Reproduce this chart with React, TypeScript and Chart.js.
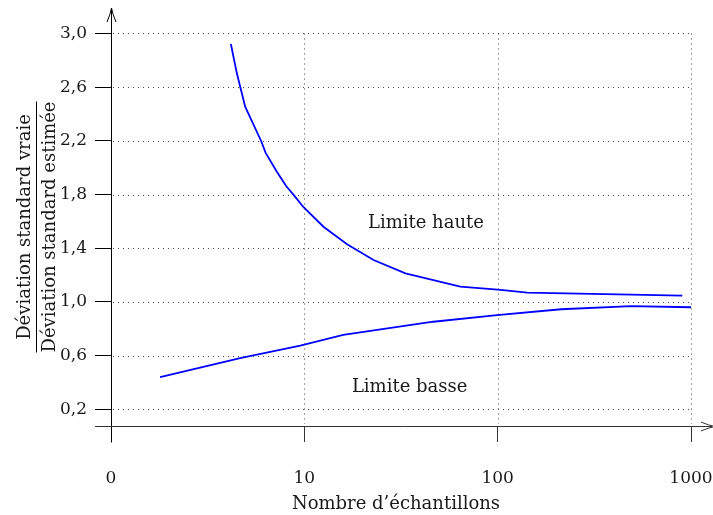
import React, { useEffect, useRef } from "react";
import { Chart, registerables } from "chart.js";

Chart.register(...registerables);

// x positions are in decades (0 -> label "0", 1 -> "10", 2 -> "100", 3 -> "1000")
const xTickValues = [0, 1, 2, 3];
const xTickLabels = ["0", "10", "100", "1000"];
const yTickValues = [0.2, 0.6, 1.0, 1.4, 1.8, 2.2, 2.6, 3.0];

const upperX = [0.62, 0.651, 0.694, 0.777, 0.8, 0.858, 0.905, 0.953, 0.996, 1.099, 1.221, 1.358, 1.523, 1.807, 2.015, 2.153, 2.955];
const upperY = [2.922, 2.703, 2.455, 2.197, 2.11, 1.97, 1.865, 1.782, 1.705, 1.56, 1.429, 1.312, 1.213, 1.113, 1.089, 1.069, 1.046];

const lowerX = [0.254, 0.668, 0.979, 1.201, 1.667, 1.997, 2.328, 2.69, 3.0];
const lowerY = [0.44, 0.58, 0.674, 0.754, 0.852, 0.902, 0.945, 0.969, 0.96];

const xTitle = "Nombre d\u2019échantillons";
const yTitleTop = "Déviation standard vraie";
const yTitleBottom = "Déviation standard estimée";

const annotations = [
  { text: "Limite haute", x: 1.329, y: 1.548 },
  { text: "Limite basse", x: 1.246, y: 0.331 },
];

const FONT_FAMILY = "'DejaVu Serif', serif";
const TEXT_COLOR = "#1a1a1a";
const TEXT_SIZE = 18;
const TICK_SIZE = 17;

const decorPlugin = {
  id: "decor",
  beforeDatasetsDraw(chart: any) {
    const { ctx, chartArea, scales } = chart;
    const xs = scales.x;
    const ys = scales.y;
    ctx.save();
    ctx.strokeStyle = "#444";
    ctx.lineWidth = 1;
    ctx.setLineDash([1, 4]);
    const right = xs.getPixelForValue(3);
    const topGrid = ys.getPixelForValue(3.0);
    for (const v of yTickValues) {
      const y = Math.round(ys.getPixelForValue(v)) + 0.5;
      ctx.beginPath();
      ctx.moveTo(chartArea.left + 2, y);
      ctx.lineTo(right, y);
      ctx.stroke();
    }
    for (const v of xTickValues.slice(1)) {
      const x = Math.round(xs.getPixelForValue(v)) + 0.5;
      ctx.beginPath();
      ctx.moveTo(x, Math.round(topGrid) + 0.5);
      ctx.lineTo(x, chartArea.bottom - 2);
      ctx.stroke();
    }
    ctx.restore();
  },
  afterDraw(chart: any) {
    const { ctx, chartArea, scales, width } = chart;
    const xs = scales.x;
    const ys = scales.y;
    ctx.save();
    ctx.setLineDash([]);
    ctx.strokeStyle = "#000";
    ctx.lineWidth = 1;
    const ax = Math.round(chartArea.left) + 0.5;
    const ay = Math.round(chartArea.bottom) + 0.5;
    // y axis
    ctx.beginPath();
    ctx.moveTo(ax, ay + 16);
    ctx.lineTo(ax, chartArea.top - 2);
    ctx.stroke();
    const tipY = chartArea.top - 2;
    ctx.beginPath();
    ctx.moveTo(ax - 4.5, tipY + 14);
    ctx.quadraticCurveTo(ax - 1, tipY + 6, ax, tipY);
    ctx.quadraticCurveTo(ax + 1, tipY + 6, ax + 4.5, tipY + 14);
    ctx.stroke();
    // x axis
    ctx.strokeStyle = "#333";
    ctx.beginPath();
    ctx.moveTo(chartArea.left - 16, ay);
    ctx.lineTo(width - 1, ay);
    ctx.stroke();
    const tipX = width + 2;
    ctx.beginPath();
    ctx.moveTo(tipX - 14, ay - 4.5);
    ctx.quadraticCurveTo(tipX - 6, ay - 1, tipX, ay);
    ctx.quadraticCurveTo(tipX - 6, ay + 1, tipX - 14, ay + 4.5);
    ctx.stroke();

    // annotations
    ctx.fillStyle = TEXT_COLOR;
    ctx.font = `${TEXT_SIZE}px ${FONT_FAMILY}`;
    ctx.textAlign = "left";
    ctx.textBaseline = "alphabetic";
    for (const a of annotations) {
      ctx.fillText(a.text, xs.getPixelForValue(a.x), ys.getPixelForValue(a.y));
    }

    // x title
    ctx.textAlign = "center";
    ctx.fillText(xTitle, (chartArea.left + chartArea.right) / 2 - 5, 509);

    // y title (fraction)
    const cy = 227;
    ctx.save();
    ctx.translate(30, cy);
    ctx.rotate(-Math.PI / 2);
    ctx.textAlign = "center";
    ctx.fillText(yTitleTop, 0, 0);
    ctx.restore();
    ctx.save();
    ctx.translate(55, cy);
    ctx.rotate(-Math.PI / 2);
    ctx.textAlign = "center";
    ctx.fillText(yTitleBottom, 0, 0);
    const w = ctx.measureText(yTitleBottom).width;
    ctx.restore();
    ctx.strokeStyle = "#000";
    ctx.beginPath();
    ctx.moveTo(36.5, cy - w / 2);
    ctx.lineTo(36.5, cy + w / 2);
    ctx.stroke();
    ctx.restore();
  },
};

const zeroPadding = (scale: any) => {
  scale.paddingTop = 0;
  scale.paddingBottom = 0;
  scale.paddingLeft = 0;
  scale.paddingRight = 0;
};

export default function App() {
  const canvasRef = useRef<HTMLCanvasElement | null>(null);

  useEffect(() => {
    if (!canvasRef.current) return;
    Chart.defaults.font.family = FONT_FAMILY;
    const chart = new Chart(canvasRef.current, {
      type: "line",
      data: {
        datasets: [
          {
            label: "Limite haute",
            data: upperX.map((x, i) => ({ x, y: upperY[i] })),
            borderColor: "#0000ff",
            borderWidth: 1.8,
            pointRadius: 0,
            tension: 0,
            fill: false,
          },
          {
            label: "Limite basse",
            data: lowerX.map((x, i) => ({ x, y: lowerY[i] })),
            borderColor: "#0000ff",
            borderWidth: 1.8,
            pointRadius: 0,
            tension: 0,
            fill: false,
          },
        ],
      },
      options: {
        animation: false,
        responsive: false,
        maintainAspectRatio: false,
        layout: { padding: { top: 10, right: 22, left: 0, bottom: 0 } },
        plugins: {
          legend: { display: false },
          tooltip: { enabled: false },
        },
        scales: {
          x: {
            type: "linear",
            min: 0,
            max: 3,
            afterBuildTicks: (scale: any) => {
              scale.ticks = xTickValues.map((v) => ({ value: v }));
            },
            afterFit: (scale: any) => {
              scale.height = 89;
              zeroPadding(scale);
            },
            grid: {
              display: true,
              drawOnChartArea: false,
              drawTicks: true,
              tickLength: 16,
              color: "#333",
            },
            border: { display: false },
            ticks: {
              autoSkip: false,
              maxRotation: 0,
              padding: 26,
              color: TEXT_COLOR,
              font: { size: TICK_SIZE, family: FONT_FAMILY },
              callback: (_v: any, i: number) => xTickLabels[i],
            },
          },
          y: {
            type: "linear",
            min: 0.075,
            max: 3.175,
            afterBuildTicks: (scale: any) => {
              scale.ticks = yTickValues.map((v) => ({ value: v }));
            },
            afterFit: (scale: any) => {
              scale.width = 111;
              zeroPadding(scale);
            },
            grid: {
              display: true,
              drawOnChartArea: false,
              drawTicks: true,
              tickLength: 16,
              color: "#000",
            },
            border: { display: false },
            ticks: {
              padding: 8,
              color: TEXT_COLOR,
              font: { size: TICK_SIZE, family: FONT_FAMILY },
              callback: (v: any) => Number(v).toFixed(1).replace(".", ","),
            },
          },
        },
      },
      plugins: [decorPlugin],
    });
    return () => chart.destroy();
  }, []);

  return (
    <div style={{ position: "fixed", left: 0, top: 0, width: 713, height: 515, background: "#fff" }}>
      <canvas ref={canvasRef} width={713} height={515} style={{ display: "block" }} />
    </div>
  );
}
